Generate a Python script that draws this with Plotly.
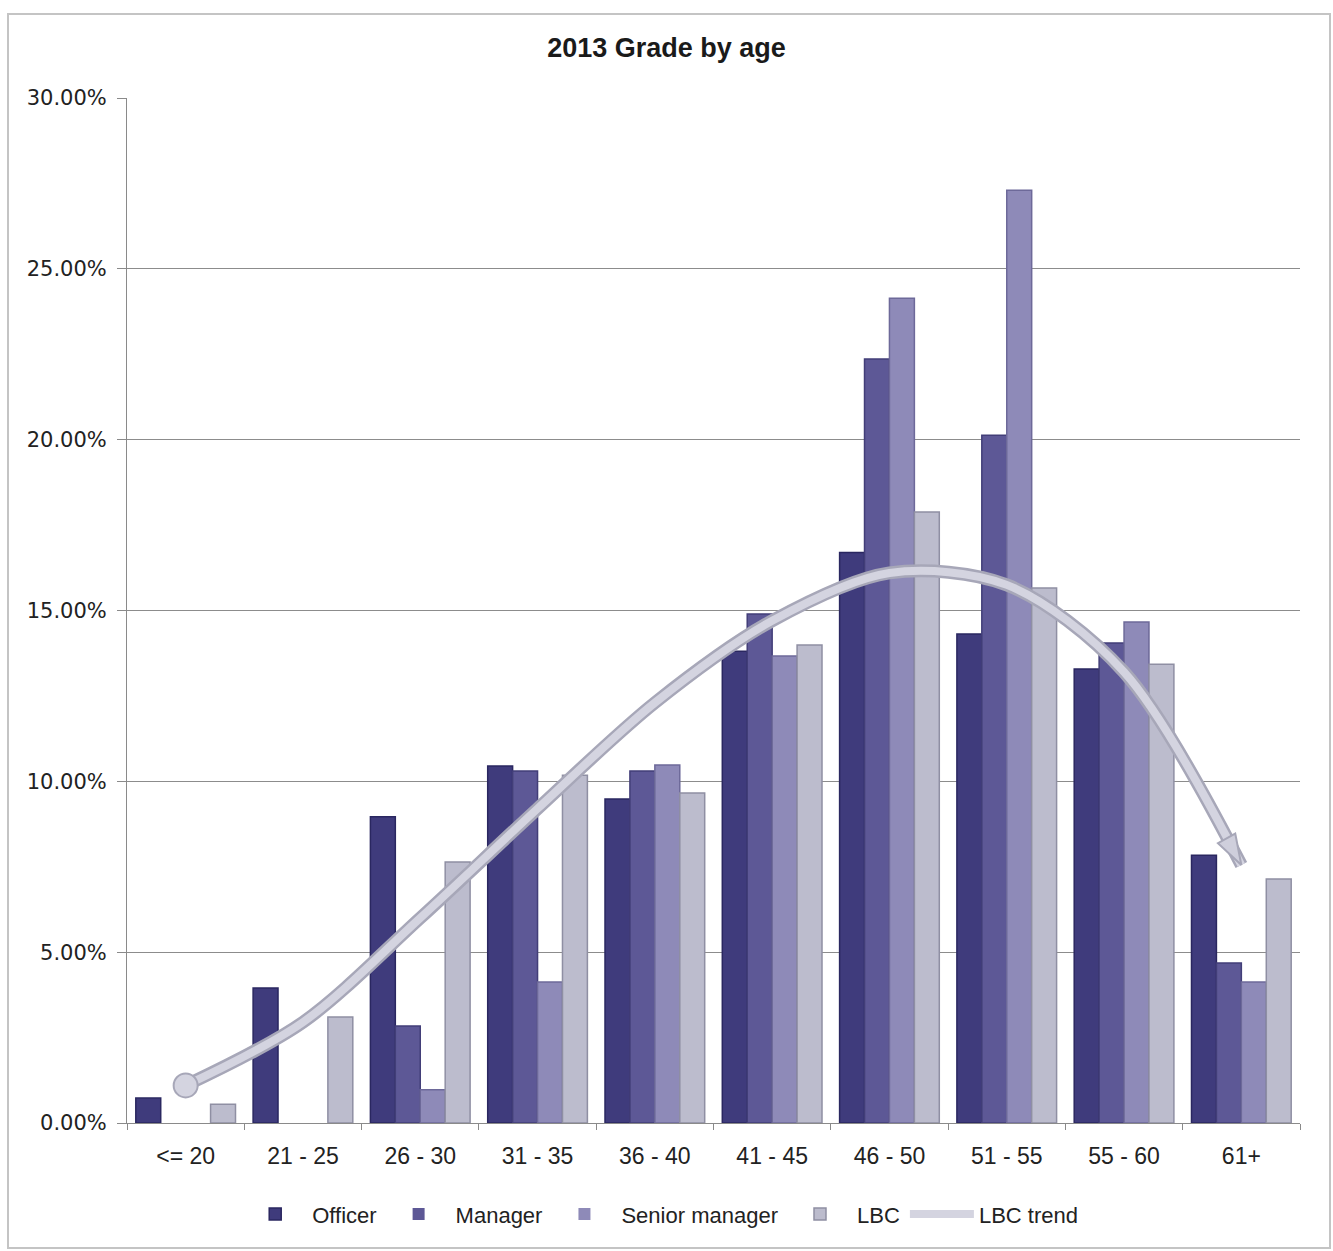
import plotly.graph_objects as go

# Age bands and share of staff (%) in each grade, 2013
age_bands = ["<= 20", "21 - 25", "26 - 30", "31 - 35", "36 - 40",
             "41 - 45", "46 - 50", "51 - 55", "55 - 60", "61+"]
officer = [0.73, 3.95, 8.96, 10.45, 9.48, 13.81, 16.70, 14.31, 13.29, 7.84]
manager = [0, 0, 2.84, 10.30, 10.30, 14.90, 22.36, 20.13, 14.05, 4.68]
senior_manager = [0, 0, 0.97, 4.13, 10.48, 13.67, 24.14, 27.30, 14.66, 4.13]
lbc = [0.55, 3.10, 7.64, 10.18, 9.66, 13.99, 17.88, 15.66, 13.43, 7.14]
lbc_trend = [1.10, 2.95, 6.00, 9.20, 12.30, 14.70, 16.10, 15.75, 13.20, 7.55]

series = [
    ("Officer", officer, "#3f3b7c", "#2a2760"),
    ("Manager", manager, "#5d5896", "#423e78"),
    ("Senior manager", senior_manager, "#8e8ab8", "#6d6999"),
    ("LBC", lbc, "#bcbccd", "#8f8fa3"),
]

fig = go.Figure()
for name, vals, color, edge in series:
    fig.add_trace(go.Bar(
        x=age_bands, y=vals, name=name,
        marker=dict(color=color,
                    line=dict(color=edge, width=[1.5 if v > 0 else 0 for v in vals])),
    ))

# Trend line: darker halo underneath, lighter stroke on top
fig.add_trace(go.Scatter(
    x=age_bands, y=lbc_trend, mode="lines", showlegend=False,
    line=dict(color="#a7a7b8", width=13, shape="spline", smoothing=0.9),
    hoverinfo="skip",
))
fig.add_trace(go.Scatter(
    x=age_bands, y=lbc_trend, mode="lines", name="LBC trend",
    line=dict(color="#d4d4e0", width=8, shape="spline", smoothing=0.9),
))
# Round cap at the start of the trend
fig.add_trace(go.Scatter(
    x=age_bands[:1], y=lbc_trend[:1], mode="markers", showlegend=False,
    marker=dict(symbol="circle", size=24, color="#d4d4e0",
                line=dict(color="#a7a7b8", width=2)),
    hoverinfo="skip",
))
# Arrow head at the end of the trend
fig.add_trace(go.Scatter(
    x=age_bands[-1:], y=lbc_trend[-1:], mode="markers", showlegend=False,
    marker=dict(symbol="arrow", size=32, angle=151, color="#cfcfdc",
                line=dict(color="#a7a7b8", width=2)),
    hoverinfo="skip",
))

fig.update_layout(
    width=1333, height=1251,
    paper_bgcolor="white", plot_bgcolor="white",
    margin=dict(l=127, r=33, t=98, b=128),
    barmode="group", bargap=0.15, bargroupgap=0.0,
    title=dict(
        text="<b>2013 Grade by age</b>",
        x=0.5, xref="container", xanchor="center",
        y=1 - 48 / 1251, yanchor="middle",
        font=dict(family="Liberation Sans, Arial, sans-serif",
                  size=27, color="#1a1a1a"),
    ),
    font=dict(family="DejaVu Sans, sans-serif", color="#222"),
    legend=dict(
        orientation="h", x=0.455, xanchor="center", y=-0.089, yanchor="middle",
        font=dict(family="Liberation Sans, Arial, sans-serif",
                  size=22, color="#222"),
        itemwidth=64, tracegroupgap=0,
    ),
    xaxis=dict(
        range=[-0.5, len(age_bands) - 0.5],
        showgrid=False, showline=True, linecolor="#8a8a8a", linewidth=1,
        ticks="outside", tickson="boundaries", ticklen=6, tickcolor="#8a8a8a",
        ticklabelstandoff=12,
        tickfont=dict(family="Liberation Sans, Arial, sans-serif",
                      size=23, color="#222"),
    ),
    yaxis=dict(
        range=[0, 30], dtick=5, tickformat=".2f", ticksuffix="%",
        showgrid=True, gridcolor="#8c8c8c", gridwidth=1,
        showline=True, linecolor="#8a8a8a", linewidth=1,
        ticks="outside", ticklen=9, tickcolor="#8a8a8a",
        ticklabelstandoff=6,
        tickfont=dict(family="DejaVu Sans, sans-serif", size=21, color="#222"),
        zeroline=False,
    ),
    shapes=[dict(
        type="rect", xref="paper", yref="paper",
        x0=-119 / 1173, x1=1 + 30 / 1173,
        y0=-125 / 1025, y1=1 + 84 / 1025,
        line=dict(color="#c4c4c4", width=2), fillcolor="rgba(0,0,0,0)",
        layer="below",
    )],
)

fig.write_html("out.html")
